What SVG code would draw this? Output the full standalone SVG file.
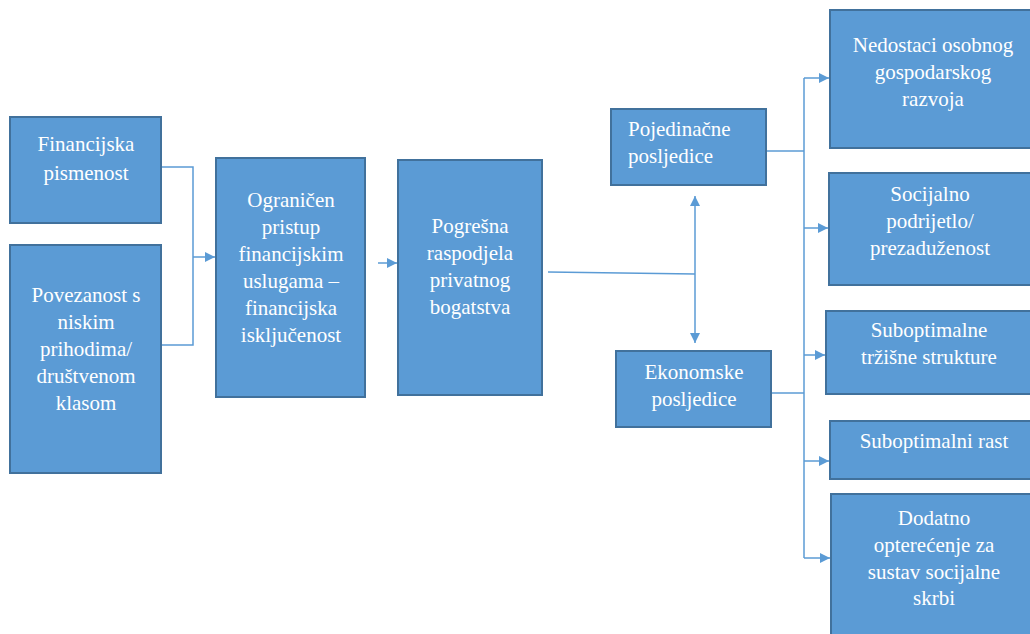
<svg xmlns="http://www.w3.org/2000/svg" width="1030" height="634" viewBox="0 0 1030 634">
<defs>
<style>
.box{fill:#5B9BD5;stroke:#41719C;stroke-width:2}
.t{text-anchor:middle}
.c{fill:none;stroke:#5B9BD5;stroke-width:1.5}
</style>
<marker id="ah" viewBox="0 0 10 10" refX="10" refY="5" markerWidth="10" markerHeight="10" markerUnits="userSpaceOnUse" orient="auto-start-reverse">
<path d="M0,0 L10,5 L0,10 Z" fill="#5B9BD5"/>
</marker>
</defs>
<rect width="1030" height="634" fill="#FFFFFF"/>
<g id="connectors">
<polyline class="c" points="161,167 193,167 193,345 161,345"/>
<line class="c" x1="193" y1="257" x2="215" y2="257" marker-end="url(#ah)"/>
<line class="c" x1="378" y1="263" x2="397" y2="263" marker-end="url(#ah)"/>
<polyline class="c" points="548,272 695,274"/>
<line class="c" x1="695" y1="196" x2="695" y2="343" marker-start="url(#ah)" marker-end="url(#ah)"/>
<line class="c" x1="766" y1="151" x2="804" y2="151"/>
<line class="c" x1="771" y1="393" x2="804" y2="393"/>
<line class="c" x1="804" y1="78" x2="804" y2="558"/>
<line class="c" x1="804" y1="78" x2="829" y2="78" marker-end="url(#ah)"/>
<line class="c" x1="804" y1="228" x2="828" y2="228" marker-end="url(#ah)"/>
<line class="c" x1="804" y1="355" x2="825" y2="355" marker-end="url(#ah)"/>
<line class="c" x1="804" y1="461" x2="829" y2="461" marker-end="url(#ah)"/>
<line class="c" x1="804" y1="558" x2="830" y2="558" marker-end="url(#ah)"/>
</g>
<g font-family="Liberation Serif, DejaVu Serif, serif" font-size="21" fill="#FFFFFF">
<g id="n1"><rect class="box" x="10" y="117" width="151" height="106"/>
<text class="t" x="86" y="151">Financijska</text><text class="t" x="86" y="180">pismenost</text></g>
<g id="n2"><rect class="box" x="10" y="245" width="151" height="228"/>
<text class="t" x="86" y="302">Povezanost s</text><text class="t" x="86" y="329">niskim</text><text class="t" x="86" y="356">prihodima/</text><text class="t" x="86" y="383">društvenom</text><text class="t" x="86" y="410">klasom</text></g>
<g id="n3"><rect class="box" x="216" y="158" width="149" height="239"/>
<text class="t" x="291" y="207">Ograničen</text><text class="t" x="291" y="234">pristup</text><text class="t" x="291" y="261">financijskim</text><text class="t" x="291" y="288">uslugama –</text><text class="t" x="291" y="315">financijska</text><text class="t" x="291" y="342">isključenost</text></g>
<g id="n4"><rect class="box" x="398" y="160" width="144" height="235"/>
<text class="t" x="470" y="233">Pogrešna</text><text class="t" x="470" y="260">raspodjela</text><text class="t" x="470" y="287">privatnog</text><text class="t" x="470" y="314">bogatstva</text></g>
<g id="n5"><rect class="box" x="611" y="109" width="155" height="76"/>
<text x="628" y="136">Pojedinačne</text><text x="628" y="163">posljedice</text></g>
<g id="n6"><rect class="box" x="616" y="351" width="155" height="76"/>
<text class="t" x="694" y="379">Ekonomske</text><text class="t" x="694" y="406">posljedice</text></g>
<g id="n7"><rect class="box" x="830" y="10" width="205" height="138"/>
<text class="t" x="933" y="52">Nedostaci osobnog</text><text class="t" x="933" y="79">gospodarskog</text><text class="t" x="933" y="106">razvoja</text></g>
<g id="n8"><rect class="box" x="829" y="173" width="206" height="112"/>
<text class="t" x="930" y="201">Socijalno</text><text class="t" x="930" y="228">podrijetlo/</text><text class="t" x="930" y="255">prezaduženost</text></g>
<g id="n9"><rect class="box" x="826" y="311" width="209" height="83"/>
<text class="t" x="929" y="337">Suboptimalne</text><text class="t" x="929" y="364">tržišne strukture</text></g>
<g id="n10"><rect class="box" x="830" y="421" width="205" height="58"/>
<text class="t" x="934" y="448">Suboptimalni rast</text></g>
<g id="n11"><rect class="box" x="831" y="494" width="204" height="145"/>
<text class="t" x="934" y="525">Dodatno</text><text class="t" x="934" y="552">opterećenje za</text><text class="t" x="934" y="579">sustav socijalne</text><text class="t" x="934" y="605">skrbi</text></g>
</g>
</svg>
